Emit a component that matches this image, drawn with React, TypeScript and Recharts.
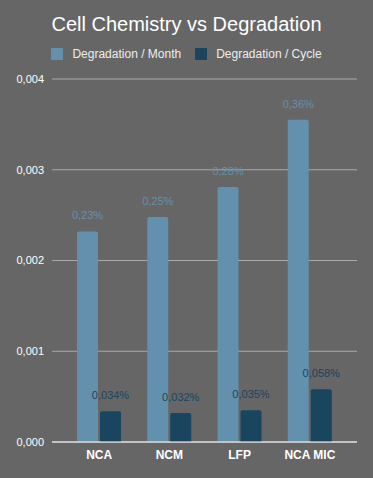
import { BarChart, Bar, XAxis, YAxis, CartesianGrid, LabelList } from 'recharts';

const chemistries = ['NCA', 'NCM', 'LFP', 'NCA MIC'];
const perMonth = [0.00232, 0.00248, 0.00281, 0.00355];
const perCycle = [0.00034, 0.00032, 0.00035, 0.00058];
const monthLabels = ['0,23%', '0,25%', '0,28%', '0,36%'];
const cycleLabels = ['0,034%', '0,032%', '0,035%', '0,058%'];
const yTicks = [0, 0.001, 0.002, 0.003, 0.004];

const MONTH_COLOR = '#6391ad';
const CYCLE_COLOR = '#19455f';
const FONT = "'Liberation Sans', Arial, sans-serif";

const seriesInfo = [
  { name: 'Degradation / Month', color: MONTH_COLOR },
  { name: 'Degradation / Cycle', color: CYCLE_COLOR },
];

function LegendRow() {
  return (
    <div style={{ position: 'absolute', top: 47, width: 373, display: 'flex', justifyContent: 'center', gap: 14, fontFamily: FONT, fontSize: 12, color: '#eeeeee' }}>
      {seriesInfo.map((s) => (
        <div key={s.name} style={{ display: 'flex', alignItems: 'center' }}>
          <span style={{ width: 12, height: 12, background: s.color, display: 'inline-block', marginRight: 9, borderRadius: 1 }} />
          <span>{s.name}</span>
        </div>
      ))}
    </div>
  );
}

export default function App() {
  const data = chemistries.map((name, i) => ({
    name,
    month: perMonth[i],
    cycle: perCycle[i],
    monthLabel: monthLabels[i],
    cycleLabel: cycleLabels[i],
  }));

  return (
    <div style={{ position: 'absolute', left: 0, top: 0, width: 373, height: 478, background: '#666666' }}>
      <div style={{ position: 'absolute', top: 13, width: 373, textAlign: 'center', fontFamily: FONT, fontSize: 20, color: '#ffffff' }}>
        Cell Chemistry vs Degradation
      </div>
      <LegendRow />
      <BarChart
        width={373}
        height={478}
        data={data}
        margin={{ top: 79, right: 16, left: 0, bottom: 6 }}
        barSize={21}
        barGap={2}
      >
        <CartesianGrid vertical={false} stroke="#aaaaaa" strokeWidth={1} />
        <XAxis
          dataKey="name"
          padding={{ left: 12, right: 12 }}
          tickLine={false}
          axisLine={{ stroke: '#ffffff' }}
          tick={{ fill: '#ffffff', fontSize: 12, fontFamily: FONT, fontWeight: 600 }}
          interval={0}
          height={30}
        />
        <YAxis
          width={52}
          domain={[0, 0.004]}
          ticks={yTicks}
          tickLine={false}
          axisLine={false}
          tickFormatter={(v: number) => v.toFixed(3).replace('.', ',')}
          tick={{ fill: '#ffffff', fontSize: 11, fontFamily: FONT }}
        />
        <Bar dataKey="month" fill={MONTH_COLOR} radius={[2, 2, 0, 0]} isAnimationActive={false}>
          <LabelList dataKey="monthLabel" position="top" offset={12} fill={MONTH_COLOR} fontSize={11} fontFamily={FONT} />
        </Bar>
        <Bar dataKey="cycle" fill={CYCLE_COLOR} radius={[2, 2, 0, 0]} isAnimationActive={false}>
          <LabelList dataKey="cycleLabel" position="top" offset={12} fill={CYCLE_COLOR} fontSize={11} fontFamily={FONT} />
        </Bar>
      </BarChart>
    </div>
  );
}
